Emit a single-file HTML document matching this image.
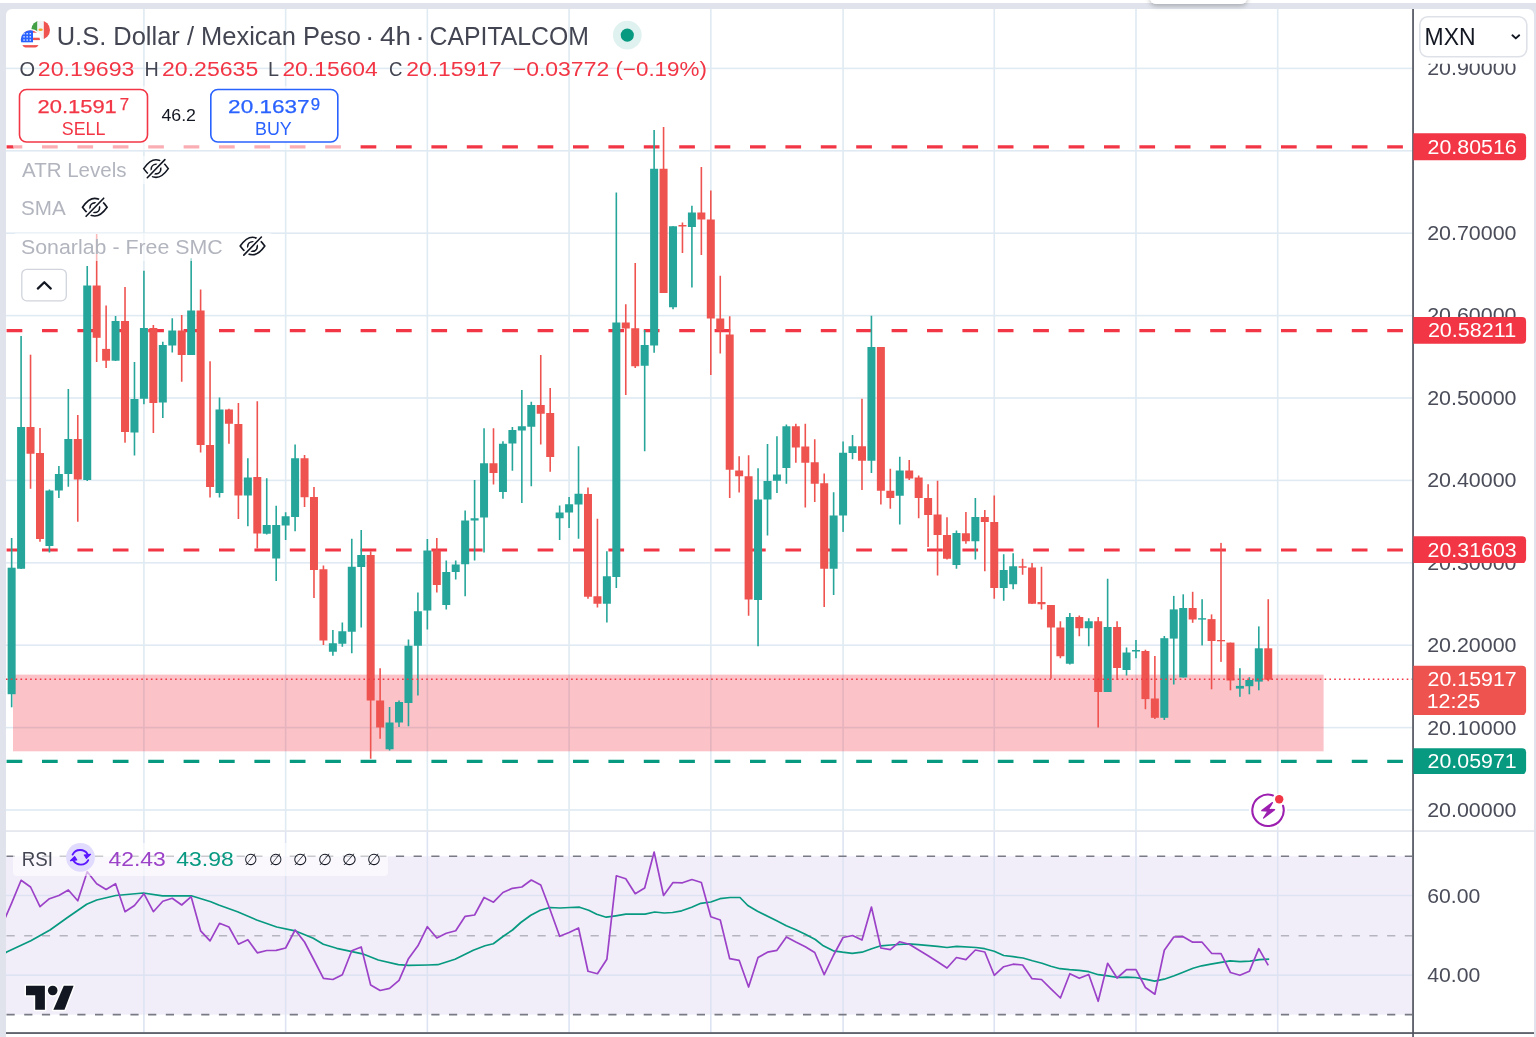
<!DOCTYPE html><html><head><meta charset="utf-8"><title>USD/MXN chart</title><style>html,body{margin:0;padding:0;background:#fff;width:1536px;height:1037px;overflow:hidden}svg{position:absolute;left:0;top:0;display:block;will-change:transform}text{font-family:'Liberation Sans', Arial, sans-serif;white-space:pre}</style></head><body>
<svg width="1536" height="1037" viewBox="0 0 1536 1037">
<defs>
<clipPath id="main"><rect x="6" y="9" width="1406.2" height="821.5"/></clipPath>
<clipPath id="rsip"><rect x="6" y="831.5" width="1406.2" height="201"/></clipPath>
<clipPath id="c90"><rect x="1420" y="63.7" width="110" height="30"/></clipPath>
<filter id="sh" x="-20%" y="-50%" width="140%" height="250%"><feDropShadow dx="0" dy="2" stdDeviation="2.5" flood-color="#000" flood-opacity="0.25"/></filter>
</defs>
<rect x="0" y="3" width="1536" height="1034" fill="#e0e3eb"/>
<path d="M6 1037V15a6 6 0 0 1 6-6H1528a6 6 0 0 1 6 6V1037Z" fill="#fff"/>
<path d="M1150 -10H1247V-5V-2a6 6 0 0 1 -6 6H1156a6 6 0 0 1 -6 -6Z" fill="#fff" filter="url(#sh)"/>
<g clip-path="url(#main)">
<rect x="6" y="809.2" width="1407" height="1.6" fill="#dfeaf2"/>
<rect x="6" y="726.8" width="1407" height="1.6" fill="#dfeaf2"/>
<rect x="6" y="644.4" width="1407" height="1.6" fill="#dfeaf2"/>
<rect x="6" y="562" width="1407" height="1.6" fill="#dfeaf2"/>
<rect x="6" y="479.6" width="1407" height="1.6" fill="#dfeaf2"/>
<rect x="6" y="397.2" width="1407" height="1.6" fill="#dfeaf2"/>
<rect x="6" y="314.8" width="1407" height="1.6" fill="#dfeaf2"/>
<rect x="6" y="232.4" width="1407" height="1.6" fill="#dfeaf2"/>
<rect x="6" y="150" width="1407" height="1.6" fill="#dfeaf2"/>
<rect x="6" y="67.6" width="1407" height="1.6" fill="#dfeaf2"/>
<rect x="1276.9" y="9" width="1.6" height="822" fill="#dfeaf2"/>
<rect x="1135.18" y="9" width="1.6" height="822" fill="#dfeaf2"/>
<rect x="993.45" y="9" width="1.6" height="822" fill="#dfeaf2"/>
<rect x="842.28" y="9" width="1.6" height="822" fill="#dfeaf2"/>
<rect x="710.01" y="9" width="1.6" height="822" fill="#dfeaf2"/>
<rect x="568.29" y="9" width="1.6" height="822" fill="#dfeaf2"/>
<rect x="426.56" y="9" width="1.6" height="822" fill="#dfeaf2"/>
<rect x="284.84" y="9" width="1.6" height="822" fill="#dfeaf2"/>
<rect x="143.12" y="9" width="1.6" height="822" fill="#dfeaf2"/>
<rect x="13" y="674.6" width="1310.6" height="76.7" fill="#f23645" fill-opacity="0.3"/>
<line x1="6.6" y1="146.9" x2="1413" y2="146.9" stroke="#f23645" stroke-width="3.2" stroke-dasharray="15.7 19.7"/>
<line x1="6.6" y1="330.7" x2="1413" y2="330.7" stroke="#f23645" stroke-width="3.2" stroke-dasharray="15.7 19.7"/>
<line x1="6.6" y1="550" x2="1413" y2="550" stroke="#f23645" stroke-width="3.2" stroke-dasharray="15.7 19.7"/>
<line x1="6.6" y1="761.3" x2="1413" y2="761.3" stroke="#089981" stroke-width="3.2" stroke-dasharray="15.7 19.7"/>
<rect x="10.84" y="538" width="1.6" height="169.3" fill="#26a69a"/>
<rect x="7.64" y="567.7" width="8" height="126.5" fill="#26a69a"/>
<rect x="20.29" y="336" width="1.6" height="233" fill="#26a69a"/>
<rect x="17.09" y="427" width="8" height="141.75" fill="#26a69a"/>
<rect x="29.74" y="354.7" width="1.6" height="134.05" fill="#ef5350"/>
<rect x="26.54" y="427" width="8" height="26.75" fill="#ef5350"/>
<rect x="39.19" y="428" width="1.6" height="113.75" fill="#ef5350"/>
<rect x="35.99" y="453" width="8" height="86" fill="#ef5350"/>
<rect x="48.63" y="489.5" width="1.6" height="63" fill="#26a69a"/>
<rect x="45.43" y="490.5" width="8" height="55.5" fill="#26a69a"/>
<rect x="58.08" y="466" width="1.6" height="32" fill="#26a69a"/>
<rect x="54.88" y="474" width="8" height="16.5" fill="#26a69a"/>
<rect x="67.53" y="389" width="1.6" height="97.75" fill="#26a69a"/>
<rect x="64.33" y="439" width="8" height="35" fill="#26a69a"/>
<rect x="76.98" y="415" width="1.6" height="106.75" fill="#ef5350"/>
<rect x="73.78" y="439" width="8" height="40.5" fill="#ef5350"/>
<rect x="86.43" y="266" width="1.6" height="215" fill="#26a69a"/>
<rect x="83.23" y="285.5" width="8" height="194.5" fill="#26a69a"/>
<rect x="95.87" y="234" width="1.6" height="128" fill="#ef5350"/>
<rect x="92.67" y="285.5" width="8" height="52.3" fill="#ef5350"/>
<rect x="105.32" y="305.5" width="1.6" height="62.5" fill="#ef5350"/>
<rect x="102.12" y="348.9" width="8" height="11.8" fill="#ef5350"/>
<rect x="114.77" y="316" width="1.6" height="45" fill="#26a69a"/>
<rect x="111.57" y="321" width="8" height="39.7" fill="#26a69a"/>
<rect x="124.22" y="287" width="1.6" height="155.7" fill="#ef5350"/>
<rect x="121.02" y="321" width="8" height="111" fill="#ef5350"/>
<rect x="133.67" y="362" width="1.6" height="93.5" fill="#26a69a"/>
<rect x="130.47" y="399" width="8" height="33.5" fill="#26a69a"/>
<rect x="143.12" y="270.75" width="1.6" height="133.5" fill="#26a69a"/>
<rect x="139.92" y="328" width="8" height="70.75" fill="#26a69a"/>
<rect x="152.56" y="325" width="1.6" height="108" fill="#ef5350"/>
<rect x="149.36" y="328" width="8" height="75" fill="#ef5350"/>
<rect x="162.01" y="341.75" width="1.6" height="76.25" fill="#26a69a"/>
<rect x="158.81" y="345" width="8" height="57.5" fill="#26a69a"/>
<rect x="171.46" y="318.25" width="1.6" height="34.25" fill="#26a69a"/>
<rect x="168.26" y="330.5" width="8" height="15" fill="#26a69a"/>
<rect x="180.91" y="315" width="1.6" height="66.75" fill="#ef5350"/>
<rect x="177.71" y="330.5" width="8" height="24.5" fill="#ef5350"/>
<rect x="190.36" y="258.25" width="1.6" height="96.75" fill="#26a69a"/>
<rect x="187.16" y="310.5" width="8" height="44.5" fill="#26a69a"/>
<rect x="199.81" y="289.5" width="1.6" height="163" fill="#ef5350"/>
<rect x="196.61" y="310.5" width="8" height="134.5" fill="#ef5350"/>
<rect x="209.25" y="361.25" width="1.6" height="136.25" fill="#ef5350"/>
<rect x="206.05" y="445" width="8" height="42" fill="#ef5350"/>
<rect x="218.7" y="397.5" width="1.6" height="100" fill="#26a69a"/>
<rect x="215.5" y="409.5" width="8" height="83.5" fill="#26a69a"/>
<rect x="228.15" y="408.75" width="1.6" height="35" fill="#ef5350"/>
<rect x="224.95" y="409.5" width="8" height="14.25" fill="#ef5350"/>
<rect x="237.6" y="403" width="1.6" height="116" fill="#ef5350"/>
<rect x="234.4" y="424" width="8" height="71.5" fill="#ef5350"/>
<rect x="247.05" y="458.25" width="1.6" height="68" fill="#26a69a"/>
<rect x="243.85" y="477.5" width="8" height="18" fill="#26a69a"/>
<rect x="256.49" y="401.25" width="1.6" height="147.25" fill="#ef5350"/>
<rect x="253.29" y="477" width="8" height="56.5" fill="#ef5350"/>
<rect x="265.94" y="478.25" width="1.6" height="56.25" fill="#26a69a"/>
<rect x="262.74" y="525" width="8" height="8.75" fill="#26a69a"/>
<rect x="275.39" y="505.75" width="1.6" height="75.25" fill="#26a69a"/>
<rect x="272.19" y="525" width="8" height="33.5" fill="#26a69a"/>
<rect x="284.84" y="512.25" width="1.6" height="27.75" fill="#26a69a"/>
<rect x="281.64" y="516.25" width="8" height="9.25" fill="#26a69a"/>
<rect x="294.29" y="444.5" width="1.6" height="86.75" fill="#26a69a"/>
<rect x="291.09" y="458.25" width="8" height="58.75" fill="#26a69a"/>
<rect x="303.74" y="455" width="1.6" height="52" fill="#ef5350"/>
<rect x="300.54" y="458.25" width="8" height="39" fill="#ef5350"/>
<rect x="313.18" y="487" width="1.6" height="111" fill="#ef5350"/>
<rect x="309.98" y="497" width="8" height="73" fill="#ef5350"/>
<rect x="322.63" y="565.5" width="1.6" height="79.5" fill="#ef5350"/>
<rect x="319.43" y="569.25" width="8" height="71.25" fill="#ef5350"/>
<rect x="332.08" y="630" width="1.6" height="25.75" fill="#26a69a"/>
<rect x="328.88" y="643.25" width="8" height="8.5" fill="#26a69a"/>
<rect x="341.53" y="622.5" width="1.6" height="24.25" fill="#26a69a"/>
<rect x="338.33" y="631.25" width="8" height="12.5" fill="#26a69a"/>
<rect x="350.98" y="538.75" width="1.6" height="114.5" fill="#26a69a"/>
<rect x="347.78" y="566.75" width="8" height="65" fill="#26a69a"/>
<rect x="360.42" y="530" width="1.6" height="97.5" fill="#26a69a"/>
<rect x="357.22" y="555" width="8" height="12" fill="#26a69a"/>
<rect x="369.87" y="551.25" width="1.6" height="207.5" fill="#ef5350"/>
<rect x="366.67" y="555" width="8" height="145.5" fill="#ef5350"/>
<rect x="379.32" y="668.25" width="1.6" height="70.5" fill="#ef5350"/>
<rect x="376.12" y="700.5" width="8" height="27" fill="#ef5350"/>
<rect x="388.77" y="707" width="1.6" height="43.5" fill="#26a69a"/>
<rect x="385.57" y="722.5" width="8" height="26.75" fill="#26a69a"/>
<rect x="398.22" y="700.5" width="1.6" height="26.5" fill="#26a69a"/>
<rect x="395.02" y="702" width="8" height="20.5" fill="#26a69a"/>
<rect x="407.67" y="639.5" width="1.6" height="86.75" fill="#26a69a"/>
<rect x="404.47" y="645.75" width="8" height="57.25" fill="#26a69a"/>
<rect x="417.11" y="592.5" width="1.6" height="103" fill="#26a69a"/>
<rect x="413.91" y="611.25" width="8" height="34.5" fill="#26a69a"/>
<rect x="426.56" y="539" width="1.6" height="90.5" fill="#26a69a"/>
<rect x="423.36" y="550.5" width="8" height="60" fill="#26a69a"/>
<rect x="436.01" y="538" width="1.6" height="54.5" fill="#ef5350"/>
<rect x="432.81" y="550.5" width="8" height="34.5" fill="#ef5350"/>
<rect x="445.46" y="560.5" width="1.6" height="49" fill="#26a69a"/>
<rect x="442.26" y="572" width="8" height="33" fill="#26a69a"/>
<rect x="454.91" y="560.5" width="1.6" height="19" fill="#26a69a"/>
<rect x="451.71" y="564.5" width="8" height="7.5" fill="#26a69a"/>
<rect x="464.35" y="510.5" width="1.6" height="85.75" fill="#26a69a"/>
<rect x="461.15" y="520.5" width="8" height="43.75" fill="#26a69a"/>
<rect x="473.8" y="480" width="1.6" height="80.5" fill="#26a69a"/>
<rect x="470.6" y="518.25" width="8" height="2.25" fill="#26a69a"/>
<rect x="483.25" y="428.25" width="1.6" height="124.25" fill="#26a69a"/>
<rect x="480.05" y="463.25" width="8" height="54.25" fill="#26a69a"/>
<rect x="492.7" y="428.25" width="1.6" height="56.25" fill="#ef5350"/>
<rect x="489.5" y="463.25" width="8" height="9.75" fill="#ef5350"/>
<rect x="502.15" y="441.25" width="1.6" height="57.5" fill="#26a69a"/>
<rect x="498.95" y="443.75" width="8" height="48.25" fill="#26a69a"/>
<rect x="511.6" y="427" width="1.6" height="43.75" fill="#26a69a"/>
<rect x="508.4" y="430" width="8" height="13.5" fill="#26a69a"/>
<rect x="521.04" y="390" width="1.6" height="113" fill="#26a69a"/>
<rect x="517.84" y="426.25" width="8" height="4.25" fill="#26a69a"/>
<rect x="530.49" y="401.75" width="1.6" height="84.5" fill="#26a69a"/>
<rect x="527.29" y="405" width="8" height="21.75" fill="#26a69a"/>
<rect x="539.94" y="355" width="1.6" height="89.5" fill="#ef5350"/>
<rect x="536.74" y="405" width="8" height="8.75" fill="#ef5350"/>
<rect x="549.39" y="388" width="1.6" height="83.75" fill="#ef5350"/>
<rect x="546.19" y="413" width="8" height="44" fill="#ef5350"/>
<rect x="558.84" y="505.5" width="1.6" height="34.5" fill="#26a69a"/>
<rect x="555.64" y="512.5" width="8" height="5.75" fill="#26a69a"/>
<rect x="568.29" y="497" width="1.6" height="31" fill="#26a69a"/>
<rect x="565.09" y="504.25" width="8" height="8.25" fill="#26a69a"/>
<rect x="577.73" y="446.25" width="1.6" height="92.5" fill="#26a69a"/>
<rect x="574.53" y="493.75" width="8" height="10.75" fill="#26a69a"/>
<rect x="587.18" y="487.5" width="1.6" height="111.25" fill="#ef5350"/>
<rect x="583.98" y="494" width="8" height="102.75" fill="#ef5350"/>
<rect x="596.63" y="518.75" width="1.6" height="88.75" fill="#ef5350"/>
<rect x="593.43" y="596.25" width="8" height="7.5" fill="#ef5350"/>
<rect x="606.08" y="551.25" width="1.6" height="71.25" fill="#26a69a"/>
<rect x="602.88" y="576.25" width="8" height="27.5" fill="#26a69a"/>
<rect x="615.53" y="192.5" width="1.6" height="395.5" fill="#26a69a"/>
<rect x="612.33" y="322.5" width="8" height="254.5" fill="#26a69a"/>
<rect x="624.97" y="304.25" width="1.6" height="90.75" fill="#ef5350"/>
<rect x="621.77" y="322.5" width="8" height="6" fill="#ef5350"/>
<rect x="634.42" y="263" width="1.6" height="105" fill="#ef5350"/>
<rect x="631.22" y="328.25" width="8" height="38" fill="#ef5350"/>
<rect x="643.87" y="330" width="1.6" height="121.25" fill="#26a69a"/>
<rect x="640.67" y="345" width="8" height="20.75" fill="#26a69a"/>
<rect x="653.32" y="130" width="1.6" height="222.75" fill="#26a69a"/>
<rect x="650.12" y="168.75" width="8" height="176.75" fill="#26a69a"/>
<rect x="662.77" y="127" width="1.6" height="166" fill="#ef5350"/>
<rect x="659.57" y="168.75" width="8" height="124.25" fill="#ef5350"/>
<rect x="672.22" y="226.25" width="1.6" height="83" fill="#26a69a"/>
<rect x="669.02" y="226.25" width="8" height="81" fill="#26a69a"/>
<rect x="681.66" y="222.5" width="1.6" height="30.5" fill="#ef5350"/>
<rect x="678.46" y="225" width="8" height="1.5" fill="#ef5350"/>
<rect x="691.11" y="205.75" width="1.6" height="81.75" fill="#26a69a"/>
<rect x="687.91" y="212.5" width="8" height="14.5" fill="#26a69a"/>
<rect x="700.56" y="167" width="1.6" height="88" fill="#ef5350"/>
<rect x="697.36" y="212.5" width="8" height="7" fill="#ef5350"/>
<rect x="710.01" y="190.5" width="1.6" height="184.5" fill="#ef5350"/>
<rect x="706.81" y="219.5" width="8" height="99" fill="#ef5350"/>
<rect x="719.46" y="275.75" width="1.6" height="77.75" fill="#ef5350"/>
<rect x="716.26" y="318.5" width="8" height="11.5" fill="#ef5350"/>
<rect x="728.9" y="316.25" width="1.6" height="181.75" fill="#ef5350"/>
<rect x="725.7" y="334.5" width="8" height="135.25" fill="#ef5350"/>
<rect x="738.35" y="456.25" width="1.6" height="36.25" fill="#ef5350"/>
<rect x="735.15" y="470.5" width="8" height="5.75" fill="#ef5350"/>
<rect x="747.8" y="455.25" width="1.6" height="160.5" fill="#ef5350"/>
<rect x="744.6" y="476.25" width="8" height="123.25" fill="#ef5350"/>
<rect x="757.25" y="468.25" width="1.6" height="178" fill="#26a69a"/>
<rect x="754.05" y="499.5" width="8" height="100.5" fill="#26a69a"/>
<rect x="766.7" y="444" width="1.6" height="91.5" fill="#26a69a"/>
<rect x="763.5" y="481" width="8" height="18.5" fill="#26a69a"/>
<rect x="776.15" y="436.25" width="1.6" height="56.75" fill="#26a69a"/>
<rect x="772.95" y="474.5" width="8" height="6.25" fill="#26a69a"/>
<rect x="785.59" y="424.5" width="1.6" height="59.25" fill="#26a69a"/>
<rect x="782.39" y="426.25" width="8" height="41.75" fill="#26a69a"/>
<rect x="795.04" y="423.75" width="1.6" height="39" fill="#ef5350"/>
<rect x="791.84" y="426.25" width="8" height="21.25" fill="#ef5350"/>
<rect x="804.49" y="423.75" width="1.6" height="83.75" fill="#ef5350"/>
<rect x="801.29" y="446.5" width="8" height="16.25" fill="#ef5350"/>
<rect x="813.94" y="439.25" width="1.6" height="62.75" fill="#ef5350"/>
<rect x="810.74" y="462.25" width="8" height="21.5" fill="#ef5350"/>
<rect x="823.39" y="473.5" width="1.6" height="133.5" fill="#ef5350"/>
<rect x="820.19" y="483.25" width="8" height="85.5" fill="#ef5350"/>
<rect x="832.83" y="492.25" width="1.6" height="102.75" fill="#26a69a"/>
<rect x="829.63" y="515.5" width="8" height="53.25" fill="#26a69a"/>
<rect x="842.28" y="441.5" width="1.6" height="90.4" fill="#26a69a"/>
<rect x="839.08" y="452.75" width="8" height="62.75" fill="#26a69a"/>
<rect x="851.73" y="435" width="1.6" height="24.25" fill="#26a69a"/>
<rect x="848.53" y="446.25" width="8" height="6.75" fill="#26a69a"/>
<rect x="861.18" y="398.75" width="1.6" height="91.25" fill="#ef5350"/>
<rect x="857.98" y="446.25" width="8" height="14.5" fill="#ef5350"/>
<rect x="870.63" y="315.75" width="1.6" height="157.25" fill="#26a69a"/>
<rect x="867.43" y="347" width="8" height="113.75" fill="#26a69a"/>
<rect x="880.08" y="347" width="1.6" height="157.5" fill="#ef5350"/>
<rect x="876.88" y="347" width="8" height="143.75" fill="#ef5350"/>
<rect x="889.52" y="468.75" width="1.6" height="40" fill="#ef5350"/>
<rect x="886.32" y="490.75" width="8" height="7.25" fill="#ef5350"/>
<rect x="898.97" y="456.75" width="1.6" height="67.75" fill="#26a69a"/>
<rect x="895.77" y="470.5" width="8" height="25.25" fill="#26a69a"/>
<rect x="908.42" y="460" width="1.6" height="20" fill="#ef5350"/>
<rect x="905.22" y="470.5" width="8" height="8" fill="#ef5350"/>
<rect x="917.87" y="475.5" width="1.6" height="42.75" fill="#ef5350"/>
<rect x="914.67" y="477.5" width="8" height="20.5" fill="#ef5350"/>
<rect x="927.32" y="484.25" width="1.6" height="62.75" fill="#ef5350"/>
<rect x="924.12" y="498" width="8" height="17" fill="#ef5350"/>
<rect x="936.76" y="480.75" width="1.6" height="94.75" fill="#ef5350"/>
<rect x="933.56" y="514.5" width="8" height="20.5" fill="#ef5350"/>
<rect x="946.21" y="517.25" width="1.6" height="42.25" fill="#ef5350"/>
<rect x="943.01" y="535" width="8" height="23.75" fill="#ef5350"/>
<rect x="955.66" y="530.5" width="1.6" height="38.25" fill="#26a69a"/>
<rect x="952.46" y="533" width="8" height="32" fill="#26a69a"/>
<rect x="965.11" y="512" width="1.6" height="31.75" fill="#ef5350"/>
<rect x="961.91" y="533.25" width="8" height="8" fill="#ef5350"/>
<rect x="974.56" y="498" width="1.6" height="61.5" fill="#26a69a"/>
<rect x="971.36" y="517" width="8" height="24.25" fill="#26a69a"/>
<rect x="984.01" y="510" width="1.6" height="61.25" fill="#ef5350"/>
<rect x="980.81" y="517" width="8" height="5" fill="#ef5350"/>
<rect x="993.45" y="495.5" width="1.6" height="103.25" fill="#ef5350"/>
<rect x="990.25" y="522" width="8" height="66" fill="#ef5350"/>
<rect x="1002.9" y="554.25" width="1.6" height="46.5" fill="#26a69a"/>
<rect x="999.7" y="570" width="8" height="18" fill="#26a69a"/>
<rect x="1012.35" y="553.25" width="1.6" height="36" fill="#26a69a"/>
<rect x="1009.15" y="566.25" width="8" height="18" fill="#26a69a"/>
<rect x="1021.8" y="558.75" width="1.6" height="16" fill="#ef5350"/>
<rect x="1018.6" y="566.25" width="8" height="1.5" fill="#ef5350"/>
<rect x="1031.25" y="563" width="1.6" height="41" fill="#ef5350"/>
<rect x="1028.05" y="567.5" width="8" height="36.25" fill="#ef5350"/>
<rect x="1040.7" y="566.75" width="1.6" height="42.75" fill="#ef5350"/>
<rect x="1037.5" y="602" width="8" height="2.25" fill="#ef5350"/>
<rect x="1050.14" y="605" width="1.6" height="73.75" fill="#ef5350"/>
<rect x="1046.94" y="605" width="8" height="22.5" fill="#ef5350"/>
<rect x="1059.59" y="621.25" width="1.6" height="37" fill="#ef5350"/>
<rect x="1056.39" y="627.5" width="8" height="28.75" fill="#ef5350"/>
<rect x="1069.04" y="613" width="1.6" height="51.5" fill="#26a69a"/>
<rect x="1065.84" y="617" width="8" height="46.75" fill="#26a69a"/>
<rect x="1078.49" y="615.5" width="1.6" height="20.75" fill="#ef5350"/>
<rect x="1075.29" y="617" width="8" height="11.25" fill="#ef5350"/>
<rect x="1087.94" y="618.25" width="1.6" height="28" fill="#26a69a"/>
<rect x="1084.74" y="621.25" width="8" height="7" fill="#26a69a"/>
<rect x="1097.38" y="617" width="1.6" height="110.5" fill="#ef5350"/>
<rect x="1094.18" y="621.25" width="8" height="70.75" fill="#ef5350"/>
<rect x="1106.83" y="578.75" width="1.6" height="113.25" fill="#26a69a"/>
<rect x="1103.63" y="627" width="8" height="65" fill="#26a69a"/>
<rect x="1116.28" y="621.25" width="1.6" height="58.75" fill="#ef5350"/>
<rect x="1113.08" y="627" width="8" height="41" fill="#ef5350"/>
<rect x="1125.73" y="647.5" width="1.6" height="28" fill="#26a69a"/>
<rect x="1122.53" y="652.5" width="8" height="17.5" fill="#26a69a"/>
<rect x="1135.18" y="640" width="1.6" height="18.25" fill="#26a69a"/>
<rect x="1131.98" y="650" width="8" height="1.5" fill="#26a69a"/>
<rect x="1144.63" y="649.7" width="1.6" height="59.5" fill="#ef5350"/>
<rect x="1141.43" y="651" width="8" height="48.1" fill="#ef5350"/>
<rect x="1154.07" y="656" width="1.6" height="63" fill="#ef5350"/>
<rect x="1150.87" y="698.5" width="8" height="19.3" fill="#ef5350"/>
<rect x="1163.52" y="636" width="1.6" height="84" fill="#26a69a"/>
<rect x="1160.32" y="638.2" width="8" height="79.6" fill="#26a69a"/>
<rect x="1172.97" y="595.9" width="1.6" height="88.6" fill="#26a69a"/>
<rect x="1169.77" y="609.4" width="8" height="29.2" fill="#26a69a"/>
<rect x="1182.42" y="594.3" width="1.6" height="83.2" fill="#26a69a"/>
<rect x="1179.22" y="608" width="8" height="69.5" fill="#26a69a"/>
<rect x="1191.87" y="591.8" width="1.6" height="31" fill="#ef5350"/>
<rect x="1188.67" y="608" width="8" height="11.5" fill="#ef5350"/>
<rect x="1201.31" y="599.2" width="1.6" height="46.2" fill="#26a69a"/>
<rect x="1198.11" y="618.2" width="8" height="1.4" fill="#26a69a"/>
<rect x="1210.76" y="614.4" width="1.6" height="74.9" fill="#ef5350"/>
<rect x="1207.56" y="619.1" width="8" height="21.9" fill="#ef5350"/>
<rect x="1220.21" y="542.9" width="1.6" height="119" fill="#ef5350"/>
<rect x="1217.01" y="640" width="8" height="1.3" fill="#ef5350"/>
<rect x="1229.66" y="642.6" width="1.6" height="47.7" fill="#ef5350"/>
<rect x="1226.46" y="642.6" width="8" height="37.9" fill="#ef5350"/>
<rect x="1239.11" y="668.2" width="1.6" height="28.6" fill="#26a69a"/>
<rect x="1235.91" y="685.9" width="8" height="2.7" fill="#26a69a"/>
<rect x="1248.56" y="677.2" width="1.6" height="17.1" fill="#26a69a"/>
<rect x="1245.36" y="680" width="8" height="6.2" fill="#26a69a"/>
<rect x="1258" y="626.4" width="1.6" height="63.9" fill="#26a69a"/>
<rect x="1254.8" y="648.3" width="8" height="33.3" fill="#26a69a"/>
<rect x="1267.45" y="599.2" width="1.6" height="82" fill="#ef5350"/>
<rect x="1264.25" y="648.3" width="8" height="31.4" fill="#ef5350"/>
<line x1="6" y1="679.2" x2="1413" y2="679.2" stroke="#f23645" stroke-width="1.6" stroke-dasharray="1.6 3.23"/>
</g>
<rect x="13" y="86" width="330" height="64" rx="4" fill="#fff" fill-opacity="0.6"/>
<rect x="13" y="156" width="162" height="28" rx="4" fill="#fff" fill-opacity="0.6"/>
<rect x="13" y="194" width="100" height="28" rx="4" fill="#fff" fill-opacity="0.6"/>
<rect x="13" y="233" width="260" height="28" rx="4" fill="#fff" fill-opacity="0.6"/>
<rect x="19.5" y="89.5" width="128" height="52.5" rx="7" fill="#fff" stroke="#f23645" stroke-width="1.6"/>
<rect x="210.8" y="89.5" width="127" height="52.5" rx="7" fill="#fff" stroke="#2962ff" stroke-width="1.6"/>
<g transform="translate(156 168.6)" fill="none" stroke="#131722" stroke-width="1.6" stroke-linecap="round"><path d="M-12.3 0Q0 -17.6 12.3 0Q0 17.6 -12.3 0Z"/><circle cx="0" cy="0.5" r="4.8"/><path d="M-8.7 9.1L8.9 -9.0" stroke="#fff" stroke-width="5"/><path d="M-8.7 9.1L8.9 -9.0"/></g>
<g transform="translate(94.8 207.2)" fill="none" stroke="#131722" stroke-width="1.6" stroke-linecap="round"><path d="M-12.3 0Q0 -17.6 12.3 0Q0 17.6 -12.3 0Z"/><circle cx="0" cy="0.5" r="4.8"/><path d="M-8.7 9.1L8.9 -9.0" stroke="#fff" stroke-width="5"/><path d="M-8.7 9.1L8.9 -9.0"/></g>
<g transform="translate(252.5 246)" fill="none" stroke="#131722" stroke-width="1.6" stroke-linecap="round"><path d="M-12.3 0Q0 -17.6 12.3 0Q0 17.6 -12.3 0Z"/><circle cx="0" cy="0.5" r="4.8"/><path d="M-8.7 9.1L8.9 -9.0" stroke="#fff" stroke-width="5"/><path d="M-8.7 9.1L8.9 -9.0"/></g>
<rect x="21.8" y="269.3" width="44.5" height="31.5" rx="5" fill="#fff" stroke="#d1d4dc" stroke-width="1.3"/>
<path d="M37.8 288.6L44.3 282.2L50.8 288.6" fill="none" stroke="#131722" stroke-width="2.2" stroke-linecap="round" stroke-linejoin="round"/>
<defs><clipPath id="mx"><circle cx="40.6" cy="30" r="9.4"/></clipPath><clipPath id="us"><circle cx="30.4" cy="39.9" r="9.6"/></clipPath></defs><g clip-path="url(#mx)"><rect x="31" y="20" width="7" height="20" fill="#43a047"/><rect x="37.2" y="20" width="6.6" height="20" fill="#f4f4f6"/><rect x="43.8" y="20" width="7" height="20" fill="#ef5350"/><ellipse cx="40.6" cy="29.8" rx="2.2" ry="1.3" fill="#f5a623"/></g><circle cx="30.4" cy="39.9" r="11" fill="#fff"/><g clip-path="url(#us)"><rect x="20" y="30" width="21" height="21" fill="#fff"/><rect x="20" y="30.3" width="21" height="2.4" fill="#ef5350"/><rect x="20" y="37.7" width="21" height="2.4" fill="#ef5350"/><rect x="20" y="45.1" width="21" height="2.4" fill="#ef5350"/><rect x="20" y="30" width="13" height="12.3" fill="#2962ff"/><rect x="23.4" y="33.1" width="1.3" height="1.3" fill="#fff"/><rect x="26.5" y="33.1" width="1.3" height="1.3" fill="#fff"/><rect x="29.6" y="33.1" width="1.3" height="1.3" fill="#fff"/><rect x="23.4" y="36.2" width="1.3" height="1.3" fill="#fff"/><rect x="26.5" y="36.2" width="1.3" height="1.3" fill="#fff"/><rect x="29.6" y="36.2" width="1.3" height="1.3" fill="#fff"/><rect x="23.4" y="39.4" width="1.3" height="1.3" fill="#fff"/><rect x="26.5" y="39.4" width="1.3" height="1.3" fill="#fff"/><rect x="29.6" y="39.4" width="1.3" height="1.3" fill="#fff"/></g>
<circle cx="627.3" cy="35.1" r="14.4" fill="#e0f2ef"/>
<circle cx="627.3" cy="35.1" r="6.6" fill="#089981"/>
<circle cx="1268" cy="810.3" r="19" fill="#fff"/>
<path d="M1272.9 795.4A15.7 15.7 0 1 0 1283.05 805.8" fill="none" stroke="#9c1fb0" stroke-width="2.1" stroke-linecap="round"/>
<path d="M1272.4 802.6L1268.6 809.3L1274.6 809.7L1263.6 818.1L1268 811.2L1261.8 810.6Z" fill="#9c1fb0" stroke="#9c1fb0" stroke-width="1.3" stroke-linejoin="round"/>
<circle cx="1279.2" cy="799.2" r="4.2" fill="#f23645"/>
<rect x="6" y="830.3" width="1528" height="1.5" fill="#e0e3eb"/>
<g clip-path="url(#rsip)">
<rect x="6" y="856.2" width="1406" height="158.4" fill="#7e57c2" fill-opacity="0.1"/>
<rect x="6" y="894.7" width="1407" height="1.6" fill="#dde3f2"/>
<rect x="6" y="974.4" width="1407" height="1.6" fill="#dde3f2"/>
<rect x="1276.9" y="831" width="1.6" height="203" fill="#dde3f2"/>
<rect x="1135.18" y="831" width="1.6" height="203" fill="#dde3f2"/>
<rect x="993.45" y="831" width="1.6" height="203" fill="#dde3f2"/>
<rect x="842.28" y="831" width="1.6" height="203" fill="#dde3f2"/>
<rect x="710.01" y="831" width="1.6" height="203" fill="#dde3f2"/>
<rect x="568.29" y="831" width="1.6" height="203" fill="#dde3f2"/>
<rect x="426.56" y="831" width="1.6" height="203" fill="#dde3f2"/>
<rect x="284.84" y="831" width="1.6" height="203" fill="#dde3f2"/>
<rect x="143.12" y="831" width="1.6" height="203" fill="#dde3f2"/>
<line x1="6.5" y1="856.2" x2="1413" y2="856.2" stroke="#787b86" stroke-opacity="1" stroke-width="1.6" stroke-dasharray="8.2 9.5"/>
<line x1="6.5" y1="935.8" x2="1413" y2="935.8" stroke="#787b86" stroke-opacity="0.5" stroke-width="1.6" stroke-dasharray="8.2 9.5"/>
<line x1="6.5" y1="1014.6" x2="1413" y2="1014.6" stroke="#787b86" stroke-opacity="1" stroke-width="1.6" stroke-dasharray="8.2 9.5"/>
<polyline points="1.5,956 6.7,952 30.8,940.8 50,930 67.5,917.5 86.7,904.2 96.7,900 115.8,895.5 143.3,893 162.5,895.8 191.3,895.8 210.8,901.7 218.7,905 237.5,911.7 256.7,920 276.7,927 295,930.8 313.3,938.3 323.3,944.2 336.7,948.3 352,951.7 362.5,953.8 378.3,960 398.3,964.7 408.3,965.3 427.8,965 437.8,964.7 455,959.2 473.3,950.3 485,945.8 493.3,943.7 503.3,936.3 512.5,930 520.8,922.5 530.8,915.3 540.3,910.3 550,907.5 560,908 570,907.5 579.5,907.2 588.7,910.3 596.7,914.2 606.2,917.2 615.8,915.8 625.8,914.2 645,914.2 654.7,912 664.2,913 672.5,912.5 681.7,910.8 691.7,907.2 700.8,903.3 710.8,902 720,898.7 730,897.5 740,897.5 747.8,905.5 757.5,911.3 776.7,920.8 786.3,925.8 795.8,929.7 805.3,934.2 815.3,939.5 823.3,945.8 833.3,950.8 842.5,952.2 852.2,953.3 862,952.2 871.7,948.7 880.8,945.8 890.8,945 908.3,943.8 918.3,944.7 937.5,946.3 947,947.5 956.7,946.3 976,947.5 984.7,948.7 994.2,951.3 1003.7,955.5 1013.3,956.7 1023,958 1032.5,960.8 1042,963.3 1050.8,966.2 1060,968.7 1069.5,969.7 1079.2,970.3 1088.8,971.7 1098.3,974.7 1108,975.8 1117.5,977.5 1126.7,977.2 1135.3,977.5 1145,979.2 1154.7,981.2 1164.2,979.2 1174.2,975.8 1182.5,972.5 1193,968.3 1201.7,965.8 1210.8,964.2 1230,960.8 1240,961.7 1250,961.2 1259.5,959.7 1269.2,959.2" fill="none" stroke="#089981" stroke-width="1.7" stroke-linejoin="round"/>
<polyline points="2.19,925 11.64,903.2 21.09,880.3 30.54,887 39.99,906.7 49.43,898.7 58.88,895.5 68.33,890 77.78,900.8 87.23,871.7 96.67,883.7 106.12,889.5 115.57,883.7 125.02,911.7 134.47,905.5 143.92,893.7 153.36,911.7 162.81,901.2 172.26,898.3 181.71,905 191.16,896.7 200.61,930.8 210.05,940.8 219.5,923.3 228.95,927 238.4,944.2 247.85,939.7 257.29,952.8 266.74,950.5 276.19,950.3 285.64,948 295.09,930 304.54,942 313.98,960 323.43,978.3 332.88,979.5 342.33,974.7 351.78,950.8 361.22,947 370.67,985 380.12,990.5 389.57,988.3 399.02,980.3 408.47,958.7 417.91,945.8 427.36,926.7 436.81,938 446.26,933.3 455.71,930.8 465.15,916.3 474.6,915 484.05,897.5 493.5,902.2 502.95,892.5 512.4,888.3 521.84,887 531.29,880 540.74,885 550.19,910 559.64,936.3 569.09,932.5 578.53,928 587.98,971.2 597.43,973.7 606.88,959.2 616.33,875.8 625.77,878.7 635.22,893.7 644.67,888 654.12,852 663.57,895.5 673.02,882.5 682.46,882.8 691.91,879.5 701.36,882.5 710.81,916.7 720.26,920 729.7,958.7 739.15,960.3 748.6,987 758.05,957.5 767.5,952.2 776.95,950.3 786.39,937 795.84,942 805.29,946.7 814.74,952.5 824.19,974.7 833.63,955 843.08,937.5 852.53,935.5 861.98,940 871.43,907 880.88,948 890.32,949.7 899.77,941.7 909.22,944.2 918.67,950 928.12,955.8 937.56,961.7 947.01,968 956.46,957.5 965.91,959.7 975.36,950 984.81,952 994.25,975.3 1003.7,966.7 1013.15,964.2 1022.6,965 1032.05,978.7 1041.5,979.5 1050.94,988.8 1060.39,998 1069.84,973.7 1079.29,978.3 1088.74,974.5 1098.18,1001.3 1107.63,963.3 1117.08,978 1126.53,969.7 1135.98,969.7 1145.43,987.5 1154.87,994.2 1164.32,950.3 1173.77,937 1183.22,936.7 1192.67,942.2 1202.11,942.2 1211.56,953.3 1221.01,953.7 1230.46,972.5 1239.91,975.3 1249.36,971.3 1258.8,948.7 1268.25,965.3" fill="none" stroke="#9b42c8" stroke-width="1.7" stroke-linejoin="round"/>
</g>
<rect x="13" y="843" width="375" height="33" rx="4" fill="#fff" fill-opacity="0.6"/>
<circle cx="80.5" cy="857.4" r="14.4" fill="#e1dcfe"/>
<path d="M72.6 854.6A8.6 8.6 0 0 1 87.6 854.2" fill="none" stroke="#5b17ff" stroke-width="1.9" stroke-linecap="round"/>
<path d="M90.5 854.3L86.4 858.3L84.3 855.0Z" fill="#5b17ff" stroke="#5b17ff" stroke-width="1.2" stroke-linejoin="round"/>
<path d="M88.2 860.2A8.6 8.6 0 0 1 73.4 860.6" fill="none" stroke="#5b17ff" stroke-width="1.9" stroke-linecap="round"/>
<path d="M70.5 860.6L74.6 856.6L76.7 859.9Z" fill="#5b17ff" stroke="#5b17ff" stroke-width="1.2" stroke-linejoin="round"/>
<g stroke="#fff" stroke-width="3" stroke-linejoin="round" fill="#131722" paint-order="stroke"><path d="M26 985.8H44.9V1009.7H35.2V995.3H26Z"/><circle cx="52.7" cy="990.5" r="4.8"/><path d="M63.8 985.8H73.6L64.5 1009.7H53.4Z"/></g>
<rect x="1412.2" y="9" width="1.7" height="1028" fill="#50535e"/>
<rect x="6" y="1032.2" width="1528" height="1.7" fill="#50535e"/>
<rect x="1419.8" y="16.8" width="107" height="40" rx="8" fill="#fff" stroke="#dfe1e8" stroke-width="1.6"/>
<path d="M1512.4 35.3L1515.8 38.4L1519.2 35.3" fill="none" stroke="#131722" stroke-width="1.9" stroke-linecap="round" stroke-linejoin="round"/>
<text x="1427.2" y="75.2" font-size="19.5" fill="#4a4d59" textLength="89.34" lengthAdjust="spacingAndGlyphs" clip-path="url(#c90)">20.90000</text>
<text x="1427.2" y="240.3" font-size="19.5" fill="#4a4d59" textLength="89.34" lengthAdjust="spacingAndGlyphs">20.70000</text>
<text x="1427.2" y="321.7" font-size="19.5" fill="#4a4d59" textLength="89.34" lengthAdjust="spacingAndGlyphs">20.60000</text>
<text x="1427.2" y="405" font-size="19.5" fill="#4a4d59" textLength="89.34" lengthAdjust="spacingAndGlyphs">20.50000</text>
<text x="1427.2" y="487.4" font-size="19.5" fill="#4a4d59" textLength="89.34" lengthAdjust="spacingAndGlyphs">20.40000</text>
<text x="1427.2" y="569.7" font-size="19.5" fill="#4a4d59" textLength="89.34" lengthAdjust="spacingAndGlyphs">20.30000</text>
<text x="1427.2" y="652.1" font-size="19.5" fill="#4a4d59" textLength="89.34" lengthAdjust="spacingAndGlyphs">20.20000</text>
<text x="1427.2" y="734.9" font-size="19.5" fill="#4a4d59" textLength="89.34" lengthAdjust="spacingAndGlyphs">20.10000</text>
<text x="1427.2" y="817" font-size="19.5" fill="#4a4d59" textLength="89.34" lengthAdjust="spacingAndGlyphs">20.00000</text>
<text x="1427.3" y="903" font-size="19.5" fill="#4a4d59" textLength="53.01" lengthAdjust="spacingAndGlyphs">60.00</text>
<text x="1427.3" y="982.3" font-size="19.5" fill="#4a4d59" textLength="53.01" lengthAdjust="spacingAndGlyphs">40.00</text>
<path d="M1413.3 133.3 H1522.1 a4 4 0 0 1 4 4 V156.2 a4 4 0 0 1 -4 4 H1413.3Z" fill="#f23645"/>
<path d="M1413.3 317 H1522.1 a4 4 0 0 1 4 4 V339.7 a4 4 0 0 1 -4 4 H1413.3Z" fill="#f23645"/>
<path d="M1413.3 536.3 H1522.1 a4 4 0 0 1 4 4 V559 a4 4 0 0 1 -4 4 H1413.3Z" fill="#f23645"/>
<path d="M1413.3 665.8 H1522.1 a4 4 0 0 1 4 4 V711.1 a4 4 0 0 1 -4 4 H1413.3Z" fill="#ef5350"/>
<path d="M1413.3 748.2 H1522.1 a4 4 0 0 1 4 4 V770 a4 4 0 0 1 -4 4 H1413.3Z" fill="#089981"/>
<text x="56.7" y="45.1" font-size="26" fill="#434652" textLength="304.31" lengthAdjust="spacingAndGlyphs">U.S. Dollar / Mexican Peso</text>
<text x="365" y="45.9" font-size="26" fill="#434652" textLength="9.47" lengthAdjust="spacingAndGlyphs">·</text>
<text x="380" y="45.1" font-size="26" fill="#434652" textLength="30.92" lengthAdjust="spacingAndGlyphs">4h</text>
<text x="415" y="45.9" font-size="26" fill="#434652" textLength="10.07" lengthAdjust="spacingAndGlyphs">·</text>
<text x="429.5" y="45.1" font-size="26" fill="#434652" textLength="159.51" lengthAdjust="spacingAndGlyphs">CAPITALCOM</text>
<text x="19.5" y="76.1" font-size="20" fill="#434652" textLength="15.56" lengthAdjust="spacingAndGlyphs">O</text>
<text x="37.8" y="76.1" font-size="20" fill="#f23645" textLength="96.62" lengthAdjust="spacingAndGlyphs">20.19693</text>
<text x="144.4" y="76.1" font-size="20" fill="#434652" textLength="14.25" lengthAdjust="spacingAndGlyphs">H</text>
<text x="162" y="76.1" font-size="20" fill="#f23645" textLength="96.22" lengthAdjust="spacingAndGlyphs">20.25635</text>
<text x="268" y="76.1" font-size="20" fill="#434652" textLength="11.02" lengthAdjust="spacingAndGlyphs">L</text>
<text x="282.4" y="76.1" font-size="20" fill="#f23645" textLength="95.42" lengthAdjust="spacingAndGlyphs">20.15604</text>
<text x="388.9" y="76.1" font-size="20" fill="#434652" textLength="13.45" lengthAdjust="spacingAndGlyphs">C</text>
<text x="406.2" y="76.1" font-size="20" fill="#f23645" textLength="95.42" lengthAdjust="spacingAndGlyphs">20.15917</text>
<text x="512.8" y="76.1" font-size="20" fill="#f23645" textLength="96.38" lengthAdjust="spacingAndGlyphs">−0.03772</text>
<text x="615.4" y="76.1" font-size="20" fill="#f23645" textLength="91.52" lengthAdjust="spacingAndGlyphs">(−0.19%)</text>
<text x="37.5" y="113.1" font-size="19" fill="#f23645" stroke="#f23645" stroke-width="0.25" textLength="79.29" lengthAdjust="spacingAndGlyphs">20.1591</text>
<text x="119.7" y="110" font-size="16" fill="#f23645" stroke="#f23645" stroke-width="0.25" textLength="9.34" lengthAdjust="spacingAndGlyphs">7</text>
<text x="61.8" y="135" font-size="17.5" fill="#f23645" textLength="43.61" lengthAdjust="spacingAndGlyphs">SELL</text>
<text x="161.4" y="121.4" font-size="16" fill="#131722" textLength="34.54" lengthAdjust="spacingAndGlyphs">46.2</text>
<text x="228.1" y="113.1" font-size="19" fill="#2962ff" stroke="#2962ff" stroke-width="0.25" textLength="81.49" lengthAdjust="spacingAndGlyphs">20.1637</text>
<text x="310.8" y="109.9" font-size="16" fill="#2962ff" stroke="#2962ff" stroke-width="0.25" textLength="9.34" lengthAdjust="spacingAndGlyphs">9</text>
<text x="255" y="135" font-size="17.5" fill="#2962ff" textLength="36.78" lengthAdjust="spacingAndGlyphs">BUY</text>
<text x="22" y="176.7" font-size="20.5" fill="#b2b5be" textLength="104.44" lengthAdjust="spacingAndGlyphs">ATR Levels</text>
<text x="21" y="215.4" font-size="20.5" fill="#b2b5be" textLength="44.64" lengthAdjust="spacingAndGlyphs">SMA</text>
<text x="21" y="253.7" font-size="20.5" fill="#b2b5be" textLength="201.69" lengthAdjust="spacingAndGlyphs">Sonarlab - Free SMC</text>
<text x="21.7" y="865.9" font-size="21" fill="#434652" textLength="31.14" lengthAdjust="spacingAndGlyphs">RSI</text>
<text x="108.4" y="865.8" font-size="20" fill="#9b42c8" textLength="57.36" lengthAdjust="spacingAndGlyphs">42.43</text>
<text x="176.3" y="865.8" font-size="20" fill="#089981" textLength="57.46" lengthAdjust="spacingAndGlyphs">43.98</text>
<text x="244" y="865" font-size="16" fill="#131722" textLength="13.6" lengthAdjust="spacingAndGlyphs">∅</text>
<text x="269" y="865" font-size="16" fill="#131722" textLength="13.6" lengthAdjust="spacingAndGlyphs">∅</text>
<text x="293" y="865" font-size="16" fill="#131722" textLength="14.6" lengthAdjust="spacingAndGlyphs">∅</text>
<text x="318" y="865" font-size="16" fill="#131722" textLength="14" lengthAdjust="spacingAndGlyphs">∅</text>
<text x="342" y="865" font-size="16" fill="#131722" textLength="15" lengthAdjust="spacingAndGlyphs">∅</text>
<text x="367" y="865" font-size="16" fill="#131722" textLength="14" lengthAdjust="spacingAndGlyphs">∅</text>
<text x="1427.6" y="153.6" font-size="19.5" fill="#ffffff" textLength="89.04" lengthAdjust="spacingAndGlyphs">20.80516</text>
<text x="1427.9" y="337.2" font-size="19.5" fill="#ffffff" textLength="88.29" lengthAdjust="spacingAndGlyphs">20.58211</text>
<text x="1427.6" y="556.5" font-size="19.5" fill="#ffffff" textLength="89.04" lengthAdjust="spacingAndGlyphs">20.31603</text>
<text x="1427.6" y="686.1" font-size="19.5" fill="#ffffff" textLength="89.04" lengthAdjust="spacingAndGlyphs">20.15917</text>
<text x="1427.6" y="767.6" font-size="19.5" fill="#ffffff" textLength="89.04" lengthAdjust="spacingAndGlyphs">20.05971</text>
<text x="1426.7" y="708.2" font-size="19.5" fill="#ffffff" textLength="53.61" lengthAdjust="spacingAndGlyphs">12:25</text>
<text x="1424.6" y="44.9" font-size="23.5" fill="#131722" textLength="51" lengthAdjust="spacingAndGlyphs">MXN</text>
</svg></body></html>
